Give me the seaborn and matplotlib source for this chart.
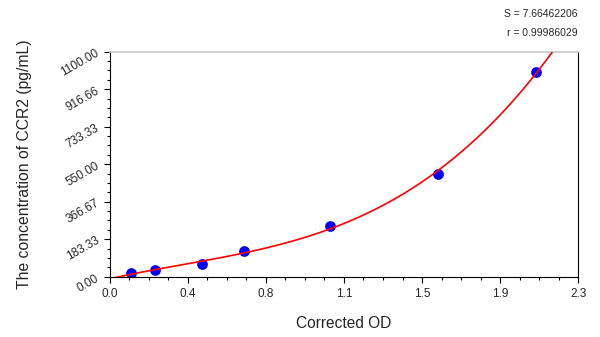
import numpy as np
import pandas as pd
import matplotlib
matplotlib.use("Agg")
import matplotlib.pyplot as plt
import seaborn as sns

# standard curve data
od = [0.104, 0.223, 0.452, 0.660, 1.082, 1.612, 2.091]
conc = [15.6, 31.25, 62.5, 125, 250, 500, 1000]
x_ticks = [0.0, 0.3833, 0.7667, 1.15, 1.5333, 1.9167, 2.3]
x_labels = ["0.0", "0.4", "0.8", "1.1", "1.5", "1.9", "2.3"]
y_ticks = [0, 183.33, 366.67, 550, 733.33, 916.66, 1100]
y_labels = ["0.00", "183.33", "366.67", "550.00", "733.33", "916.66", "1100.00"]

df = pd.DataFrame({"od": od, "conc": conc})

# cubic fit, lightly weighted toward the low standards
coef = np.polyfit(df["od"], df["conc"], 3, w=df["conc"] ** -0.2)
grid = np.linspace(0, 2.3, 300)
fit = pd.DataFrame({"od": grid, "conc": np.polyval(coef, grid)})

sns.set_style("white")
plt.rcParams["font.family"] = ["Liberation Sans", "DejaVu Sans"]

fig = plt.figure(figsize=(6, 3.37), dpi=100)
ax = fig.add_axes([0.1825, 0.179, 0.7815, 0.6676])

sns.scatterplot(data=df, x="od", y="conc", color="#0000ff", s=60, linewidth=0, ax=ax, zorder=2)
sns.lineplot(data=fit, x="od", y="conc", color="#ff0000", lw=1.2, ax=ax, zorder=3)
ax.set_xlim(0, 2.3)
ax.set_ylim(0, 1100)

ax.set_xticks(x_ticks)
ax.set_xticklabels(x_labels, fontsize=8.5)
ax.set_yticks(y_ticks)
ax.set_yticklabels(y_labels, fontsize=8.5, rotation=30)
ax.set_xticks(np.linspace(0, 2.3, 25), minor=True)
ax.set_yticks(np.linspace(0, 1100, 25), minor=True)
ax.tick_params(which="major", direction="out", length=4, width=0.8, color="black",
               bottom=True, left=True, pad=4)
ax.tick_params(axis="y", which="major", pad=2)
ax.tick_params(which="minor", direction="out", length=2.5, width=0.8, color="black",
               bottom=True, left=True)

for s in ["left", "bottom", "right"]:
    ax.spines[s].set_color("black")
    ax.spines[s].set_linewidth(0.8)
ax.spines["top"].set_color("#c8c8c8")
ax.spines["top"].set_linewidth(1.2)

ax.set_xlabel("Corrected OD", fontsize=11.2, labelpad=12)
ax.set_ylabel("The concentration of CCR2 (pg/mL)", fontsize=11.3, labelpad=19)

fig.text(0.963, 0.957, "S = 7.66462206", ha="right", va="center", fontsize=7.5)
fig.text(0.963, 0.903, "r = 0.99986029", ha="right", va="center", fontsize=7.5)

fig.savefig("out.png", dpi=100)
